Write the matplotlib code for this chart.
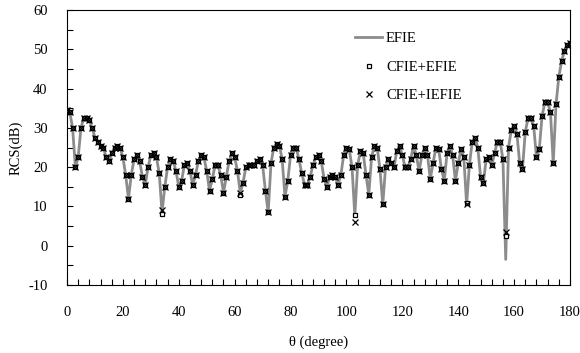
import matplotlib
matplotlib.use('Agg')
import matplotlib.pyplot as plt
from matplotlib.ticker import MultipleLocator

plt.rcParams['font.family'] = ['Liberation Serif', 'DejaVu Serif']
plt.rcParams['axes.unicode_minus'] = False

# 观察角 (degree)
theta = list(range(0, 181))

# EFIE 结果 (dB)
rcs_efie = [
    34.5, 34, 30, 20, 22.5, 30, 32.5, 32.5, 32, 30,
    27.5, 26.5, 25.5, 25, 22.5, 21.5, 23.5, 25, 25.5, 25,
    22.5, 18, 12, 18, 22, 23, 21.5, 17.5, 15.5, 20,
    23, 23.5, 22.5, 18.5, 8.5, 15, 20, 22, 21.5, 19,
    15, 16.5, 20.5, 21, 19, 15.5, 18, 21.5, 23, 22.5,
    19, 14, 17, 20.5, 20.5, 18, 13.5, 17.5, 21.5, 23.5,
    22.5, 19, 13.5, 16, 20, 20.5, 20.5, 20.5, 21.5, 22,
    20.5, 14, 8.5, 21, 25, 26, 25.5, 22, 12.5, 16.5,
    23, 25, 25, 22, 18.5, 15.5, 15.5, 17.5, 20.5, 22.5,
    23, 21.5, 17, 15, 17.5, 18, 17.5, 15.5, 18, 23,
    25, 24.5, 20, 7.5, 20.5, 24, 23.5, 18, 13, 22.5,
    25.5, 25, 19.5, 10.5, 20, 22, 21, 20, 24, 25.5,
    23, 20, 20, 22, 25.5, 23, 19, 23, 25, 23,
    17, 21, 25, 24.5, 19.5, 16.5, 23.5, 25.5, 23, 16.5,
    21, 24.5, 22.5, 10.5, 20.5, 26.5, 27.5, 25, 17.5, 16,
    22, 22.5, 20.5, 23.5, 26.5, 26.5, 22, -3.5, 25, 29.5,
    30.5, 28.5, 21, 19.5, 29, 32.5, 32.5, 30.5, 22.5, 24.5,
    33, 36.5, 36.5, 34, 21, 36, 43, 47, 49.5, 51,
    51.5,
]

# CFIE 结果只在深零点处与 EFIE 不同
cfie_efie_nulls = {34: 8.0, 62: 13.0, 103: 7.8, 143: 11.0, 157: 2.5}
cfie_iefie_nulls = {34: 9.0, 103: 6.0, 143: 10.5, 157: 3.5}

rcs_cfie_efie = [cfie_efie_nulls.get(t, v) for t, v in zip(theta, rcs_efie)]
rcs_cfie_iefie = [cfie_iefie_nulls.get(t, v) for t, v in zip(theta, rcs_efie)]

fig = plt.figure(figsize=(5.8, 3.53), dpi=100)
ax = fig.add_axes([67 / 580, 1 - 285 / 353, 503 / 580, 275 / 353])

ax.plot(theta, rcs_efie, color='#8c8c8c', lw=2.0, label='EFIE', zorder=2)
ax.plot(theta, rcs_cfie_efie, ls='none', marker='s', ms=3.2, mfc='white',
        mec='black', mew=0.9, label='CFIE+EFIE', zorder=3)
ax.plot(theta, rcs_cfie_iefie, ls='none', marker='x', ms=5, mec='black',
        mew=0.9, label='CFIE+IEFIE', zorder=4)

ax.set_xlim(0, 180)
ax.set_ylim(-10, 60)
ax.xaxis.set_major_locator(MultipleLocator(20))
ax.xaxis.set_minor_locator(MultipleLocator(4))
ax.yaxis.set_major_locator(MultipleLocator(10))
ax.yaxis.set_minor_locator(MultipleLocator(5))
ax.tick_params(which='both', direction='in', length=4, width=0.8, labelsize=10.5)
ax.tick_params(axis='x', which='major', pad=15)
ax.tick_params(axis='y', which='major', pad=14)
for s in ax.spines.values():
    s.set_linewidth(0.8)

ax.set_xlabel('θ (degree)', fontsize=10.5, labelpad=12)
ax.set_ylabel('RCS(dB)', fontsize=10.5, labelpad=4)

ax.legend(loc='upper left', bbox_to_anchor=(0.572, 0.92), frameon=False,
          fontsize=10.5, handlelength=1.9, handletextpad=0.25,
          labelspacing=1.05, borderaxespad=0, borderpad=0)

plt.savefig('out.png', dpi=100)
